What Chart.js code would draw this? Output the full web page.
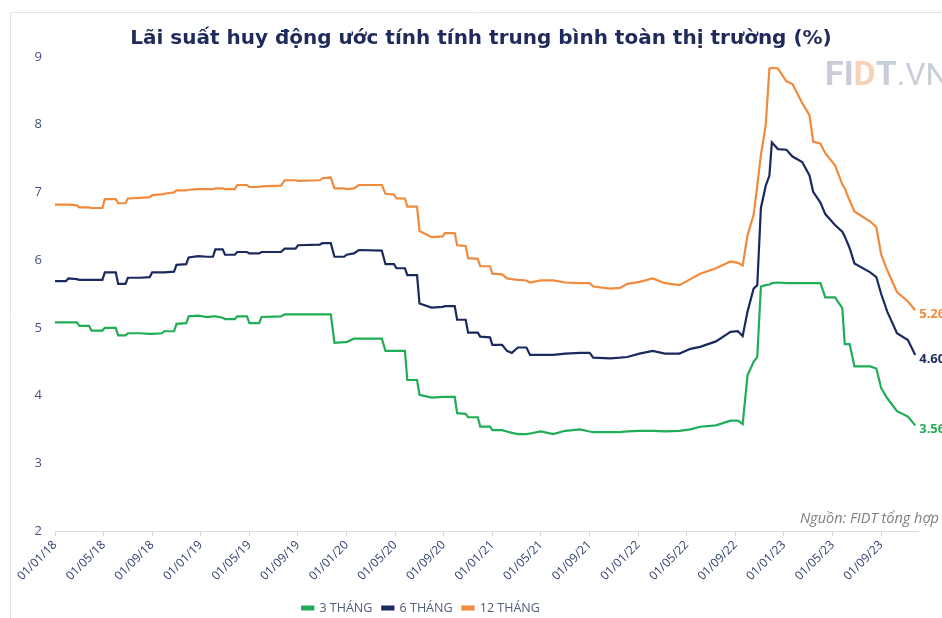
<!DOCTYPE html>
<html>
<head>
<meta charset="utf-8">
<script src="https://cdn.jsdelivr.net/npm/chart.js@4.4.1/dist/chart.umd.min.js"></script>
<style>
html,body{margin:0;padding:0;background:#ffffff;}
#wrap{width:942px;height:618px;position:relative;overflow:hidden;}
</style>
</head>
<body>
<div id="wrap"><canvas id="c" width="942" height="618"></canvas></div>
<script>
// ---- DATA (months since 01/01/2018) ----
const months = [0,0.9,1.1,1.8,2.0,2.8,3.0,3.9,4.1,5.0,5.2,5.8,6.0,7.0,7.8,8.0,8.8,9.0,9.8,10.0,10.8,11.0,11.8,
12.5,13.0,13.2,13.8,14.0,14.8,15.0,15.8,16.0,16.8,17.0,18.6,18.9,19.8,20.0,21.8,22.0,22.7,23.0,23.8,24.0,24.6,
25.0,26.9,27.2,27.9,28.1,28.8,29.0,29.8,30.0,31.0,31.9,32.1,32.9,33.1,33.8,34.0,34.8,35.0,35.8,36.0,36.8,37.2,
37.6,38.1,38.8,39.1,40.0,41.0,42.0,43.2,44.0,44.3,45.7,46.5,47.1,48.1,49.2,50.2,51.4,52.3,53.1,54.4,55.6,56.2,56.6,
57.0,57.5,57.8,58.1,58.5,58.8,59.0,59.5,60.2,60.7,61.5,62.1,62.4,63.0,63.4,64.2,64.8,65.0,65.4,65.8,67.1,67.6,68.0,68.5,69.3,70.2,70.8];

const rate3m = [5.08,5.08,5.08,5.08,5.03,5.03,4.96,4.96,5.00,5.00,4.89,4.89,4.92,4.92,4.91,4.91,4.92,4.95,4.95,5.06,5.07,5.17,5.18,
5.16,5.17,5.17,5.15,5.13,5.13,5.17,5.17,5.07,5.07,5.16,5.17,5.20,5.20,5.20,5.20,5.20,5.20,4.78,4.79,4.79,4.84,
4.84,4.84,4.66,4.66,4.66,4.66,4.23,4.23,4.01,3.97,3.98,3.98,3.98,3.74,3.73,3.68,3.68,3.54,3.54,3.49,3.49,3.47,
3.45,3.43,3.43,3.44,3.47,3.43,3.48,3.50,3.47,3.46,3.46,3.46,3.47,3.48,3.48,3.47,3.48,3.50,3.54,3.56,3.63,3.63,3.58,
4.30,4.50,4.57,5.61,5.63,5.64,5.66,5.67,5.66,5.66,5.66,5.66,5.66,5.66,5.45,5.45,5.29,4.76,4.76,4.43,4.43,4.40,4.11,3.96,3.77,3.69,3.56];

const rate6m = [5.69,5.69,5.73,5.72,5.71,5.71,5.71,5.71,5.82,5.82,5.65,5.65,5.74,5.74,5.75,5.82,5.82,5.82,5.83,5.93,5.94,6.04,6.06,
6.05,6.05,6.16,6.16,6.08,6.08,6.12,6.12,6.10,6.10,6.12,6.12,6.17,6.17,6.22,6.23,6.25,6.25,6.05,6.05,6.08,6.10,
6.15,6.14,5.94,5.94,5.88,5.88,5.78,5.78,5.36,5.30,5.31,5.32,5.32,5.12,5.12,4.93,4.93,4.87,4.86,4.75,4.75,4.66,
4.63,4.71,4.71,4.60,4.60,4.60,4.62,4.63,4.63,4.56,4.55,4.56,4.57,4.62,4.66,4.62,4.62,4.69,4.72,4.80,4.94,4.95,4.88,
5.24,5.58,5.63,6.77,7.10,7.25,7.74,7.64,7.63,7.53,7.45,7.25,7.01,6.85,6.68,6.52,6.42,6.35,6.18,5.95,5.82,5.75,5.50,5.24,4.92,4.82,4.60];

const rate12m = [6.82,6.82,6.82,6.81,6.78,6.78,6.77,6.77,6.90,6.90,6.84,6.84,6.91,6.92,6.93,6.96,6.97,6.98,7.00,7.03,7.03,7.04,7.05,
7.05,7.05,7.06,7.06,7.05,7.05,7.11,7.11,7.08,7.08,7.09,7.10,7.18,7.18,7.17,7.18,7.21,7.22,7.06,7.06,7.05,7.06,
7.11,7.11,6.98,6.97,6.91,6.91,6.79,6.79,6.43,6.34,6.35,6.40,6.40,6.22,6.21,6.03,6.02,5.91,5.91,5.80,5.79,5.73,
5.72,5.71,5.70,5.67,5.70,5.70,5.67,5.66,5.66,5.61,5.58,5.59,5.65,5.68,5.73,5.66,5.63,5.72,5.80,5.88,5.98,5.96,5.92,
6.37,6.67,7.10,7.55,8.00,8.83,8.84,8.83,8.64,8.60,8.32,8.14,7.75,7.72,7.58,7.40,7.12,7.06,6.88,6.72,6.57,6.49,6.08,5.85,5.53,5.39,5.26];

const tickLabels = ['01/01/18','01/05/18','01/09/18','01/01/19','01/05/19','01/09/19','01/01/20','01/05/20','01/09/20',
'01/01/21','01/05/21','01/09/21','01/01/22','01/05/22','01/09/22','01/01/23','01/05/23','01/09/23'];
const tickMonths = [0,4,8,12,16,20,24,28,32,36,40,44,48,52,56,60,64,68];
const seriesNames = ['3 THÁNG','6 THÁNG','12 THÁNG'];
const titleText = 'Lãi suất huy động ước tính tính trung bình toàn thị trường (%)';
const sourceText = 'Nguồn: FIDT tổng hợp';

// ---- STYLE ----
const colors = ['#1fad55','#1b2a5e','#f08a3c'];
const FONT = "'Open Sans', 'DejaVu Sans', sans-serif";

function pts(vals){ return months.map((m,i)=>({x:m, y:vals[i]})); }

const placePlugin = {
  id:'place',
  afterLayout(chart){
    const lg = chart.legend;
    if (lg) {
      const dx = 421 - (lg.left + lg.right)/2;
      const dy = 608 - (lg.top + lg.bottom)/2;
      lg.left += dx; lg.right += dx; lg.top += dy; lg.bottom += dy;
    }
    const t = chart.titleBlock;
    if (t) {
      const dx = 481 - (t.left + t.right)/2;
      t.left += dx; t.right += dx;
    }
  }
};

const extrasPlugin = {
  id:'extras',
  beforeDraw(chart){
    const ctx = chart.ctx;
    ctx.save();
    ctx.strokeStyle = '#e4e4e4';
    ctx.lineWidth = 1;
    ctx.beginPath();
    ctx.moveTo(10.5, 618); ctx.lineTo(10.5, 12.5); ctx.lineTo(942, 12.5);
    ctx.stroke();
    // watermark
    ctx.textBaseline = 'alphabetic';
    ctx.font = "bold 34px 'Roboto', sans-serif";
    let x = 825;
    const parts = [['FI','#c9cdd8'],['D','#f6d3b8'],['T','#c9cdd8']];
    parts.forEach(([s,c])=>{ ctx.fillStyle=c; ctx.fillText(s,x,85); x += ctx.measureText(s).width; });
    ctx.font = "32px 'Roboto', sans-serif";
    ctx.fillStyle = '#c9cdd8';
    ctx.fillText('.VN', x, 85);
    ctx.restore();
  },
  afterDraw(chart){
    const ctx = chart.ctx;
    ctx.save();
    // source
    ctx.font = "italic 14.5px 'Open Sans', sans-serif";
    ctx.fillStyle = '#7d7d7d';
    ctx.textAlign = 'right';
    ctx.textBaseline = 'middle';
    ctx.fillText(sourceText, 939, 519);
    // end labels
    ctx.textAlign = 'left';
    ctx.font = "bold 13px 'Open Sans', sans-serif";
    chart.data.datasets.forEach((ds,i)=>{
      const meta = chart.getDatasetMeta(i);
      const el = meta.data[meta.data.length-1];
      const v = ds.data[ds.data.length-1].y;
      ctx.fillStyle = colors[i];
      ctx.fillText(v.toFixed(2), el.x + 4, el.y + 4);
    });
    ctx.restore();
  }
};

new Chart(document.getElementById('c'), {
  type:'line',
  data:{
    datasets:[
      {label:seriesNames[0], data:pts(rate3m), borderColor:colors[0], backgroundColor:colors[0]},
      {label:seriesNames[1], data:pts(rate6m), borderColor:colors[1], backgroundColor:colors[1]},
      {label:seriesNames[2], data:pts(rate12m), borderColor:colors[2], backgroundColor:colors[2]}
    ]
  },
  options:{
    responsive:false,
    animation:false,
    devicePixelRatio:1,
    elements:{ line:{borderWidth:2.2, tension:0}, point:{radius:0, hoverRadius:0} },
    layout:{ padding:{top:0, right:24, bottom:0, left:0} },
    plugins:{
      title:{ display:true, text:titleText, color:'#1f2b5c',
        font:{family:"'DejaVu Sans', sans-serif", size:20, weight:'bold'}, padding:{top:27, bottom:6} },
      legend:{ display:true, position:'bottom',
        labels:{ boxWidth:11, boxHeight:3, color:'#515b7c', padding:10,
          font:{family:FONT, size:12.5} } },
      tooltip:{enabled:false}
    },
    scales:{
      x:{ type:'linear', min:0, max:71.03,
        afterBuildTicks:(s)=>{ s.ticks = tickMonths.map(v=>({value:v})); },
        afterFit:(s)=>{ const lh = (s.chart.legend && s.chart.legend.height) || 0; s.height = s.chart.height - 531 - lh; },
        ticks:{ autoSkip:false, maxRotation:45, minRotation:45, color:'#2f3d6c',
          font:{family:FONT, size:12}, padding:2,
          callback:(v)=>{ const i = tickMonths.indexOf(v); return i>=0 ? tickLabels[i] : ''; } },
        grid:{ drawOnChartArea:false, drawTicks:true, tickLength:5, color:'#d6d6d6' },
        border:{ display:true, color:'#dcdcdc', width:1 } },
      y:{ min:2, max:9,
        afterFit:(s)=>{ s.width = 55; },
        ticks:{ stepSize:1, color:'#47537c', font:{family:FONT, size:13}, padding:13 },
        grid:{ display:false, drawTicks:false },
        border:{ display:false } }
    }
  },
  plugins:[placePlugin, extrasPlugin]
});
</script>
</body>
</html>
